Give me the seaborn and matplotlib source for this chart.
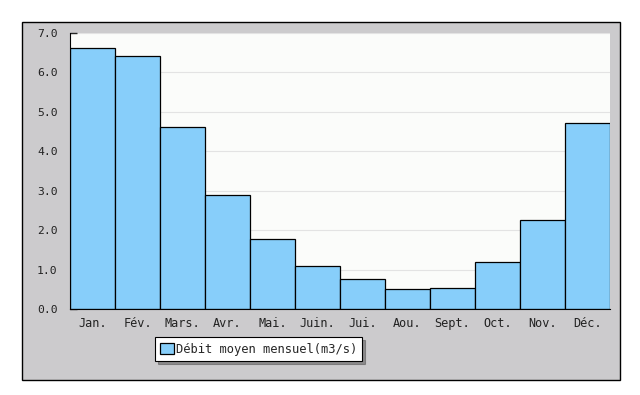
import matplotlib
matplotlib.use("Agg")
import matplotlib.pyplot as plt
from matplotlib.patches import Rectangle
import seaborn as sns
import pandas as pd

# monthly mean discharge (m3/s)
months = ["Jan.", "Fév.", "Mars.", "Avr.", "Mai.", "Juin.", "Jui.", "Aou.",
          "Sept.", "Oct.", "Nov.", "Déc."]
debit = [6.63, 6.41, 4.62, 2.88, 1.77, 1.09, 0.75, 0.51, 0.54, 1.18, 2.25, 4.71]
yticks = [0, 1, 2, 3, 4, 5, 6, 7]
label = "Débit moyen mensuel(m3/s)"

df = pd.DataFrame({"mois": months, "debit": debit})

sns.set_style("white")
plt.rcParams['font.family'] = ['DejaVu Sans Mono']

fig = plt.figure(figsize=(6.4, 3.95), dpi=100)
W, H = 640, 395

# gray panel behind the chart
panel = Rectangle((22 / W, 1 - 380 / H), 598 / W, 358 / H,
                  transform=fig.transFigure, facecolor="#cccbcd",
                  edgecolor="black", linewidth=1, zorder=-10)
fig.patches.append(panel)

ax = fig.add_axes([70 / W, 1 - 309 / H, 540 / W, 276 / H])
ax.set_zorder(1)
ax.set_facecolor("#fbfcfa")

# horizontal grid lines under the bars, ticks stay on top
for v in yticks[1:]:
    ax.axhline(v, color="#e3e3e3", linewidth=0.8, zorder=0.5)

sns.barplot(data=df, x="mois", y="debit", color="#87cefa", saturation=1,
            width=1, edgecolor="black", linewidth=0.9, ax=ax, label=label,
            zorder=2)

ax.set_xlim(-0.5, 11.5)
ax.set_ylim(0, 7)
ax.set_yticks(yticks)
ax.set_yticklabels([f"{v:.1f}" for v in yticks])
ax.set_yticks([v + 0.5 for v in yticks[:-1]], minor=True)
ax.set_xlabel("")
ax.set_ylabel("")

for s in ["top", "right"]:
    ax.spines[s].set_visible(False)
ax.spines["left"].set_color("black")
ax.spines["bottom"].set_color("black")

ax.tick_params(axis="y", which="both", direction="in", length=5, width=1,
               labelsize=8.2, pad=9, left=True, labelcolor="#222222")
ax.tick_params(axis="x", length=0, labelsize=8.6, pad=6, labelcolor="#222222")

leg = ax.legend(loc="center left", bbox_to_anchor=(155 / W, 1 - 349 / H),
                bbox_transform=fig.transFigure, frameon=True, fancybox=False,
                shadow=True, edgecolor="black", fontsize=8.7, handlelength=1.1,
                handleheight=1.1, handletextpad=0.15, borderpad=0.45,
                borderaxespad=0)
leg.get_frame().set_linewidth(0.8)

fig.savefig("out.png", dpi=100, facecolor="white")
